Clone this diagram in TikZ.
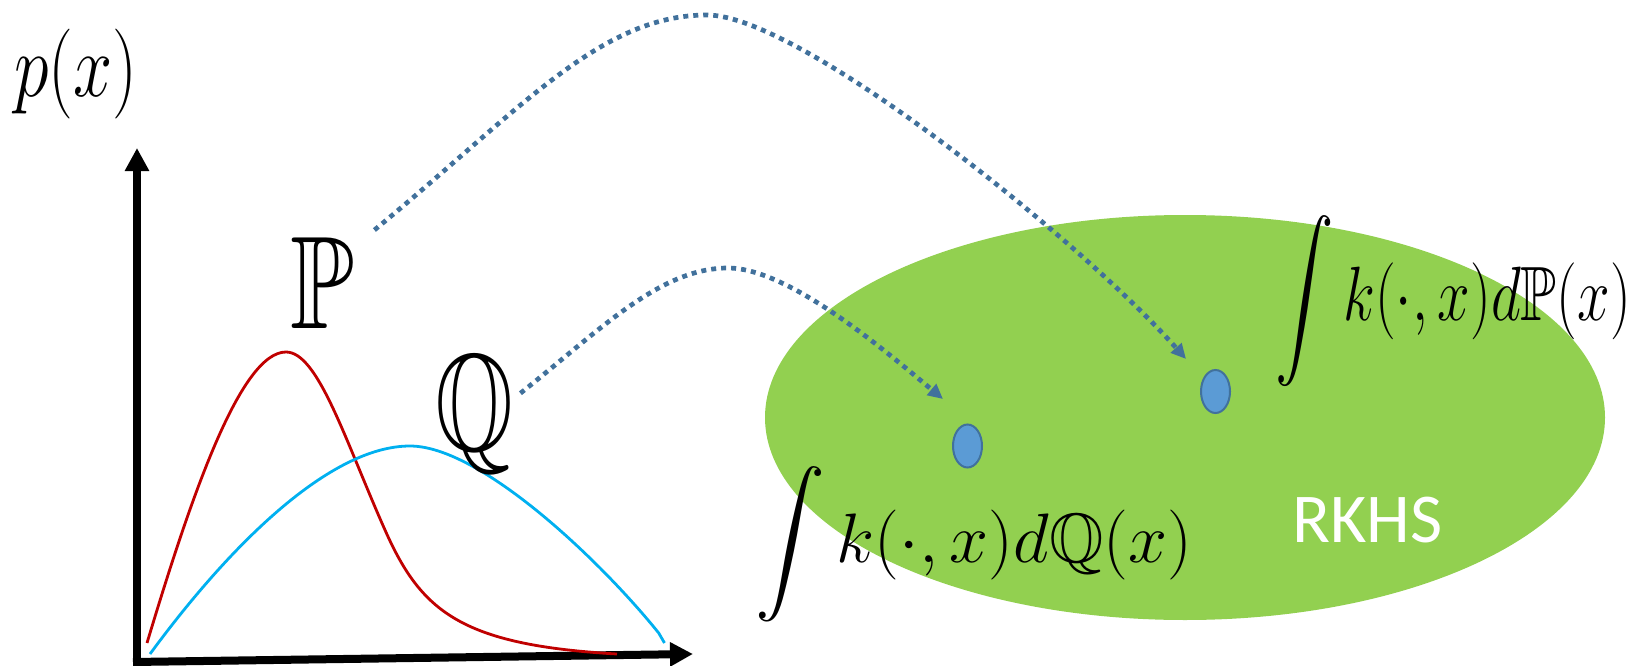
\RequirePackage{fix-cm}
\documentclass[tikz,border=0pt]{standalone}
\usepackage{amssymb}
\usepackage{fontspec}
\newfontfamily\calibri{Carlito}
\usetikzlibrary{arrows.meta,shapes.geometric}
\definecolor{conncol}{RGB}{65,113,156}
\definecolor{rkhsgreen}{RGB}{146,208,80}
\definecolor{dotfill}{RGB}{91,155,213}
\definecolor{pred}{RGB}{192,0,0}
\definecolor{qblue}{RGB}{0,176,240}
\begin{document}
\begin{tikzpicture}[x=1pt,y=-1pt,
  conn/.style={draw=conncol, line width=4.7pt, dash pattern=on 5pt off 5pt, -{Triangle[length=15pt,width=14pt]}},
  axisline/.style={line width=8pt, -{Triangle[length=23pt,width=23pt]}},
  dens/.style={line width=2.8pt},
  blob/.style={ellipse, fill=dotfill, draw=conncol, line width=2pt, minimum width=29pt, minimum height=43pt, inner sep=0pt},
  lbl/.style={inner sep=0pt}]
\useasboundingbox (0,0) rectangle (1635,666);
% RKHS region
\fill[rkhsgreen] (1185,417.5) ellipse [x radius=420, y radius=202.5];
% axes
\coordinate (ybot) at (137,666);
\coordinate (ytip) at (137,148);
\coordinate (xleft) at (133,662);
\coordinate (xtip) at (693,654);
\draw[axisline] (ybot) -- (ytip);
\draw[axisline] (xleft) -- (xtip);
% densities
\draw[pred,dens] (147,643) .. controls (190,500) and (240,352) .. (286,352)
  .. controls (318,352) and (345,440) .. (385,530)
  .. controls (421,611) and (460,645) .. (617,654);
\draw[qblue,dens] (150,654) .. controls (230,545) and (330,446) .. (410,446)
  .. controls (480,446) and (600,560) .. (658.7,633) -- (664.5,643);
% labels
\node[lbl, anchor=base west] (px) at (14,97) {\fontsize{90}{100}\selectfont\scalebox{0.78}[1]{$p(x)$}};
\node[lbl, anchor=north west] (P) at (290,237) {\resizebox*{64pt}{91pt}{$\mathbb{P}$}};
\node[lbl, anchor=north west] (Q) at (435,355) {\resizebox*{78pt}{118pt}{$\mathbb{Q}$}};
% embeddings
\node[blob] (muQ) at (967.5,446) {};
\node[blob] (muP) at (1215.5,391.5) {};
\coordinate (tipQ) at (943,399);
\coordinate (tipP) at (1186,359);
\node[lbl, anchor=base west] (eP) at (1275,320) {\fontsize{77}{90}\selectfont\scalebox{0.76}[1]{$\displaystyle\int k(\cdot,x)d\mathbb{P}(x)$}};
\node[lbl, anchor=base west] (eQ) at (755,562) {\fontsize{70}{84}\selectfont $\displaystyle\int k(\cdot,x)d\mathbb{Q}(x)$};
\node[lbl, anchor=base west, text=white] (rkhs) at (1292,542) {\fontsize{70}{84}\selectfont\calibri RKHS};
% connectors
\draw[conn] ([xshift=20pt,yshift=7pt]P.north east) .. controls (520,110) and (600,15) .. (707,15) .. controls (800,15) and (1080,240) .. (tipP);
\draw[conn] ([xshift=7pt,yshift=21pt]Q.east) .. controls (600,330) and (660,268) .. (728,268) .. controls (790,268) and (890,355) .. (tipQ);
\end{tikzpicture}
\end{document}
